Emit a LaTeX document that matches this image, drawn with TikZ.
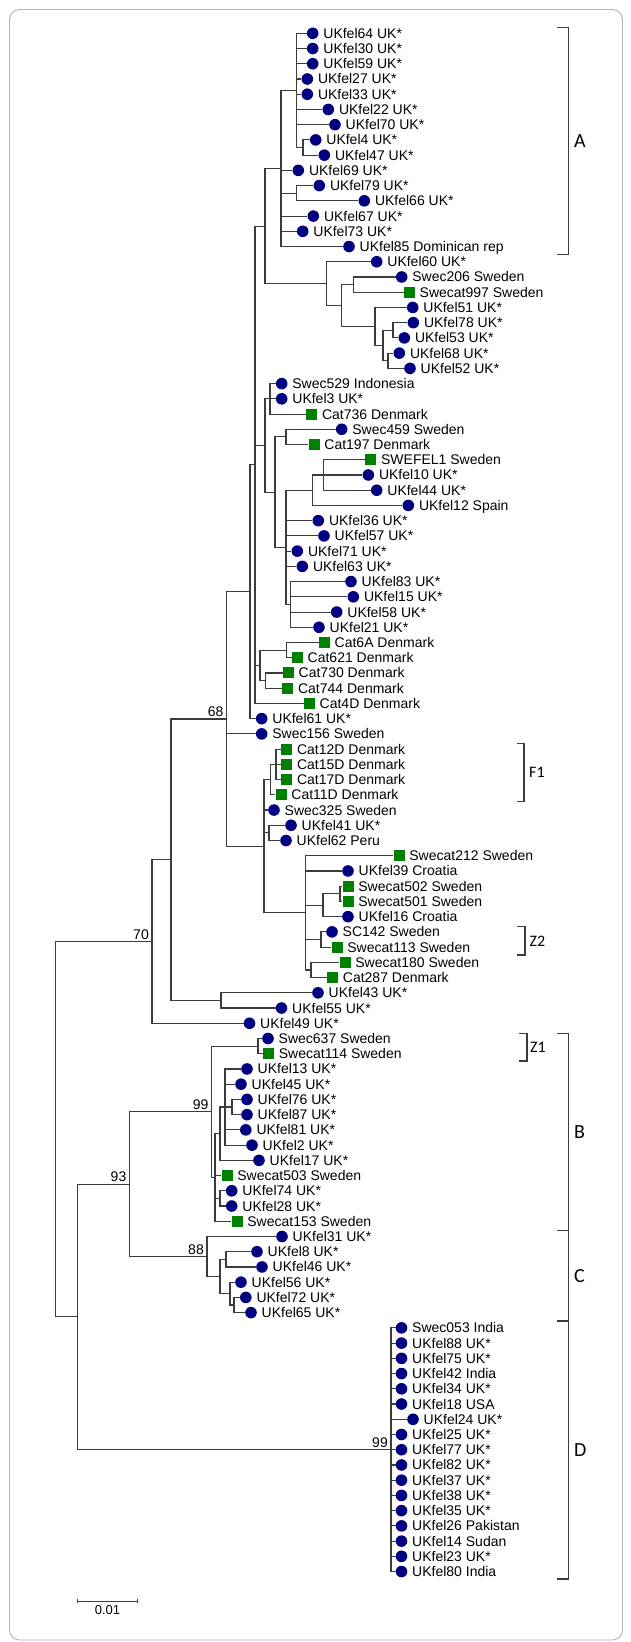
\documentclass[tikz,border=0pt]{standalone}
\usepackage{fontspec}
\setmainfont{Liberation Sans}
\newfontfamily\cladefont{Carlito}
\definecolor{dotblue}{RGB}{0,0,128}
\definecolor{boxgreen}{RGB}{0,128,0}
\definecolor{branchgray}{RGB}{60,60,60}
\begin{document}
\begin{tikzpicture}[x=1pt,y=-15.23pt,
  uk/.style={circle,fill=dotblue,inner sep=0pt,minimum size=11.6pt},
  se/.style={rectangle,fill=boxgreen,inner sep=0pt,minimum size=11pt},
  lab/.style={inner sep=0pt,text height=10pt,text depth=0pt,font=\fontsize{14}{16}\selectfont},
  boot/.style={anchor=south east,inner sep=2pt,xshift=-1pt,font=\fontsize{14}{16}\selectfont},
  br/.style={draw=branchgray,line width=1.1pt},
  cladelab/.style={anchor=west,inner sep=0pt,font=\cladefont\fontsize{20}{22}\selectfont},
  sublab/.style={anchor=west,inner sep=0pt,font=\cladefont\fontsize{16}{18}\selectfont},
  every label/.append style={lab},
  label distance=4.5pt]
\useasboundingbox (0,-1.1865) rectangle (630,106.626);
\draw[gray!60,line width=0.9pt,rounded corners=10pt] (9.5,-0.562) rectangle (622.5,106.49);

\node[uk,label=right:UKfel64 UK*] (u64) at (312.7,1) {};
\node[uk,label=right:UKfel30 UK*] (u30) at (312.7,2) {};
\node[uk,label=right:UKfel59 UK*] (u59) at (312.7,3) {};
\node[uk,label=right:UKfel27 UK*] (u27) at (307.3,4) {};
\node[uk,label=right:UKfel33 UK*] (u33) at (307.3,5) {};
\node[uk,label=right:UKfel22 UK*] (u22) at (328.3,6) {};
\node[uk,label=right:UKfel70 UK*] (u70) at (335,7) {};
\node[uk,label=right:UKfel4 UK*] (u4) at (315.7,8) {};
\node[uk,label=right:UKfel47 UK*] (u47) at (324.3,9) {};
\node[uk,label=right:UKfel69 UK*] (u69) at (298.3,10) {};
\node[uk,label=right:UKfel79 UK*] (u79) at (319.3,11) {};
\node[uk,label=right:UKfel66 UK*] (u66) at (364.3,12) {};
\node[uk,label=right:UKfel67 UK*] (u67) at (313.3,13) {};
\node[uk,label=right:UKfel73 UK*] (u73) at (302.7,14) {};
\node[uk,label=right:UKfel85 Dominican rep] (u85) at (349,15) {};
\node[uk,label=right:UKfel60 UK*] (u60) at (376.7,16) {};
\node[uk,label=right:Swec206 Sweden] (sw206) at (401.7,17) {};
\node[se,label=right:Swecat997 Sweden] (sc997) at (409.3,18) {};
\node[uk,label=right:UKfel51 UK*] (u51) at (412.7,19) {};
\node[uk,label=right:UKfel78 UK*] (u78) at (413.3,20) {};
\node[uk,label=right:UKfel53 UK*] (u53) at (404.3,21) {};
\node[uk,label=right:UKfel68 UK*] (u68) at (399.3,22) {};
\node[uk,label=right:UKfel52 UK*] (u52) at (410,23) {};
\node[uk,label=right:Swec529 Indonesia] (sw529) at (281.7,24) {};
\node[uk,label=right:UKfel3 UK*] (u3) at (281.7,25) {};
\node[se,label=right:Cat736 Denmark] (c736) at (311.7,26) {};
\node[uk,label=right:Swec459 Sweden] (sw459) at (341.7,27) {};
\node[se,label=right:Cat197 Denmark] (c197) at (314,28) {};
\node[se,label=right:SWEFEL1 Sweden] (swefel1) at (370.7,29) {};
\node[uk,label=right:UKfel10 UK*] (u10) at (368.3,30) {};
\node[uk,label=right:UKfel44 UK*] (u44) at (376.7,31) {};
\node[uk,label=right:UKfel12 Spain] (u12) at (408.3,32) {};
\node[uk,label=right:UKfel36 UK*] (u36) at (318.3,33) {};
\node[uk,label=right:UKfel57 UK*] (u57) at (324,34) {};
\node[uk,label=right:UKfel71 UK*] (u71) at (297.3,35) {};
\node[uk,label=right:UKfel63 UK*] (u63) at (302.3,36) {};
\node[uk,label=right:UKfel83 UK*] (u83) at (351,37) {};
\node[uk,label=right:UKfel15 UK*] (u15) at (353.3,38) {};
\node[uk,label=right:UKfel58 UK*] (u58) at (336.7,39) {};
\node[uk,label=right:UKfel21 UK*] (u21) at (319,40) {};
\node[se,label=right:Cat6A Denmark] (c6A) at (324.3,41) {};
\node[se,label=right:Cat621 Denmark] (c621) at (297.3,42) {};
\node[se,label=right:Cat730 Denmark] (c730) at (288.3,43) {};
\node[se,label=right:Cat744 Denmark] (c744) at (287.7,44) {};
\node[se,label=right:Cat4D Denmark] (c4D) at (309.3,45) {};
\node[uk,label=right:UKfel61 UK*] (u61) at (261.7,46) {};
\node[uk,label=right:Swec156 Sweden] (sw156) at (261.7,47) {};
\node[se,label=right:Cat12D Denmark] (c12D) at (286.7,48) {};
\node[se,label=right:Cat15D Denmark] (c15D) at (286.7,49) {};
\node[se,label=right:Cat17D Denmark] (c17D) at (286.7,50) {};
\node[se,label=right:Cat11D Denmark] (c11D) at (281,51) {};
\node[uk,label=right:Swec325 Sweden] (sw325) at (274,52) {};
\node[uk,label=right:UKfel41 UK*] (u41) at (291,53) {};
\node[uk,label=right:UKfel62 Peru] (u62) at (286,54) {};
\node[se,label=right:Swecat212 Sweden] (sc212) at (399,55) {};
\node[uk,label=right:UKfel39 Croatia] (u39) at (348,56) {};
\node[se,label=right:Swecat502 Sweden] (sc502) at (348,57) {};
\node[se,label=right:Swecat501 Sweden] (sc501) at (348,58) {};
\node[uk,label=right:UKfel16 Croatia] (u16) at (348,59) {};
\node[uk,label=right:SC142 Sweden] (k142) at (332,60) {};
\node[se,label=right:Swecat113 Sweden] (sc113) at (337,61) {};
\node[se,label=right:Swecat180 Sweden] (sc180) at (345,62) {};
\node[se,label=right:Cat287 Denmark] (c287) at (332.5,63) {};
\node[uk,label=right:UKfel43 UK*] (u43) at (318,64) {};
\node[uk,label=right:UKfel55 UK*] (u55) at (281.5,65) {};
\node[uk,label=right:UKfel49 UK*] (u49) at (249.5,66) {};
\node[uk,label=right:Swec637 Sweden] (sw637) at (268,67) {};
\node[se,label=right:Swecat114 Sweden] (sc114) at (268.5,68) {};
\node[uk,label=right:UKfel13 UK*] (u13) at (247,69) {};
\node[uk,label=right:UKfel45 UK*] (u45) at (241,70) {};
\node[uk,label=right:UKfel76 UK*] (u76) at (247,71) {};
\node[uk,label=right:UKfel87 UK*] (u87) at (247,72) {};
\node[uk,label=right:UKfel81 UK*] (u81) at (245.8,73) {};
\node[uk,label=right:UKfel2 UK*] (u2) at (252,74) {};
\node[uk,label=right:UKfel17 UK*] (u17) at (259,75) {};
\node[se,label=right:Swecat503 Sweden] (sc503) at (227,76) {};
\node[uk,label=right:UKfel74 UK*] (u74) at (231.7,77) {};
\node[uk,label=right:UKfel28 UK*] (u28) at (231.7,78) {};
\node[se,label=right:Swecat153 Sweden] (sc153) at (237,79) {};
\node[uk,label=right:UKfel31 UK*] (u31) at (282,80) {};
\node[uk,label=right:UKfel8 UK*] (u8) at (257,81) {};
\node[uk,label=right:UKfel46 UK*] (u46) at (262,82) {};
\node[uk,label=right:UKfel56 UK*] (u56) at (241,83) {};
\node[uk,label=right:UKfel72 UK*] (u72) at (245.8,84) {};
\node[uk,label=right:UKfel65 UK*] (u65) at (251,85) {};
\node[uk,label=right:Swec053 India] (sw053) at (401.5,86) {};
\node[uk,label=right:UKfel88 UK*] (u88) at (401.5,87) {};
\node[uk,label=right:UKfel75 UK*] (u75) at (401.5,88) {};
\node[uk,label=right:UKfel42 India] (u42) at (401.5,89) {};
\node[uk,label=right:UKfel34 UK*] (u34) at (401.5,90) {};
\node[uk,label=right:UKfel18 USA] (u18) at (401.5,91) {};
\node[uk,label=right:UKfel24 UK*] (u24) at (413,92) {};
\node[uk,label=right:UKfel25 UK*] (u25) at (401.5,93) {};
\node[uk,label=right:UKfel77 UK*] (u77) at (401.5,94) {};
\node[uk,label=right:UKfel82 UK*] (u82) at (401.5,95) {};
\node[uk,label=right:UKfel37 UK*] (u37) at (401.5,96) {};
\node[uk,label=right:UKfel38 UK*] (u38) at (401.5,97) {};
\node[uk,label=right:UKfel35 UK*] (u35) at (401.5,98) {};
\node[uk,label=right:UKfel26 Pakistan] (u26) at (401.5,99) {};
\node[uk,label=right:UKfel14 Sudan] (u14) at (401.5,100) {};
\node[uk,label=right:UKfel23 UK*] (u23) at (401.5,101) {};
\node[uk,label=right:UKfel80 India] (u80) at (401.5,102) {};

\coordinate (root) at (55.5,72.96);
\coordinate (n70) at (152,60.63);
\coordinate (nbig) at (171,55.26);
\coordinate (n4355) at (221,64.5);
\coordinate (n68) at (226.7,46.02);
\coordinate (nU) at (250,37.664);
\coordinate (nV) at (255,29.328);
\coordinate (nW) at (265,13.656);
\coordinate (nA) at (281,9.875);
\coordinate (nA1) at (296.7,4.75);
\coordinate (n447) at (303,8.5);
\coordinate (n7966) at (296.7,11.5);
\coordinate (n60) at (326.7,17.4375);
\coordinate (nC1) at (341.7,18.875);
\coordinate (n206) at (353.3,17.5);
\coordinate (n51) at (375,20.25);
\coordinate (nin) at (383,21.5);
\coordinate (n7853) at (393,20.5);
\coordinate (n6852) at (388,22.5);
\coordinate (nQ) at (265,28.0625);
\coordinate (nQ1) at (270,25);
\coordinate (nQ2) at (275,31.125);
\coordinate (n459) at (286,27.5);
\coordinate (nH) at (286,34.75);
\coordinate (nS1) at (312.7,31);
\coordinate (nS1a) at (323.3,30);
\coordinate (nS2) at (290.7,38.5);
\coordinate (nG) at (260,42.5);
\coordinate (n6A) at (286.7,41.5);
\coordinate (n730) at (265.7,43.5);
\coordinate (nL) at (264,54.375);
\coordinate (nf1b) at (270.7,50);
\coordinate (nf1a) at (276,49);
\coordinate (n4162) at (269,53.5);
\coordinate (nM) at (305.4,58.75);
\coordinate (nM1) at (323,58.25);
\coordinate (n502) at (340,57.5);
\coordinate (nZ2) at (321,60.5);
\coordinate (n180) at (311,62.5);
\coordinate (n9D) at (77.5,85.28);
\coordinate (n93) at (129.5,76.5625);
\coordinate (n99B) at (211.6,71.8125);
\coordinate (n637) at (258,67.5);
\coordinate (nY) at (215,76.125);
\coordinate (nX2) at (220,73.25);
\coordinate (nX1) at (225,71.5);
\coordinate (n7687) at (232,71.5);
\coordinate (n7428) at (220,77.5);
\coordinate (n88) at (207,81.3125);
\coordinate (nZ1) at (220,82.625);
\coordinate (n846) at (226,81.5);
\coordinate (n5665) at (230,83.75);
\coordinate (n7265) at (234,84.5);
\coordinate (nD) at (391,94);

\draw[br] (root) |- (n70) (root) |- (n9D);
\draw[br] (n70) |- (nbig) (n70) |- (u49);
\draw[br] (nbig) |- (n68) (nbig) |- (n4355);
\draw[br] (n4355) |- (u43) (n4355) |- (u55);
\draw[br] (n68) |- (nU) (n68) |- (sw156) (n68) |- (nL);
\draw[br] (nU) |- (nV) (nU) |- (u61);
\draw[br] (nV) |- (nW) (nV) |- (nQ) (nV) |- (nG) (nV) |- (c4D);
\draw[br] (nW) |- (nA) (nW) |- (n60);
\draw[br] (nA) |- (nA1) (nA) |- (u69) (nA) |- (n7966) (nA) |- (u67) (nA) |- (u73) (nA) |- (u85);
\draw[br] (nA1) |- (u64) (nA1) |- (u30) (nA1) |- (u59) (nA1) |- (u27) (nA1) |- (u33) (nA1) |- (u22) (nA1) |- (u70) (nA1) |- (n447);
\draw[br] (n447) |- (u4) (n447) |- (u47);
\draw[br] (n7966) |- (u79) (n7966) |- (u66);
\draw[br] (n60) |- (u60) (n60) |- (nC1);
\draw[br] (nC1) |- (n206) (nC1) |- (n51);
\draw[br] (n206) |- (sw206) (n206) |- (sc997);
\draw[br] (n51) |- (u51) (n51) |- (nin);
\draw[br] (nin) |- (n7853) (nin) |- (n6852);
\draw[br] (n7853) |- (u78) (n7853) |- (u53);
\draw[br] (n6852) |- (u68) (n6852) |- (u52);
\draw[br] (nQ) |- (nQ1) (nQ) |- (nQ2);
\draw[br] (nQ1) |- (sw529) (nQ1) |- (u3) (nQ1) |- (c736);
\draw[br] (nQ2) |- (n459) (nQ2) |- (nH);
\draw[br] (n459) |- (sw459) (n459) |- (c197);
\draw[br] (nH) |- (nS1) (nH) |- (u36) (nH) |- (u57) (nH) |- (u71) (nH) |- (u63) (nH) |- (nS2);
\draw[br] (nS1) |- (nS1a) (nS1) |- (u12);
\draw[br] (nS1a) |- (swefel1) (nS1a) |- (u10) (nS1a) |- (u44);
\draw[br] (nS2) |- (u83) (nS2) |- (u15) (nS2) |- (u58) (nS2) |- (u21);
\draw[br] (nG) |- (n6A) (nG) |- (n730);
\draw[br] (n6A) |- (c6A) (n6A) |- (c621);
\draw[br] (n730) |- (c730) (n730) |- (c744);
\draw[br] (nL) |- (nf1b) (nL) |- (sw325) (nL) |- (n4162) (nL) |- (nM);
\draw[br] (nf1b) |- (nf1a) (nf1b) |- (c11D);
\draw[br] (nf1a) |- (c12D) (nf1a) |- (c15D) (nf1a) |- (c17D);
\draw[br] (n4162) |- (u41) (n4162) |- (u62);
\draw[br] (nM) |- (sc212) (nM) |- (u39) (nM) |- (nM1) (nM) |- (nZ2) (nM) |- (n180);
\draw[br] (nM1) |- (n502) (nM1) |- (u16);
\draw[br] (n502) |- (sc502) (n502) |- (sc501);
\draw[br] (nZ2) |- (k142) (nZ2) |- (sc113);
\draw[br] (n180) |- (sc180) (n180) |- (c287);
\draw[br] (n9D) |- (n93) (n9D) |- (nD);
\draw[br] (n93) |- (n99B) (n93) |- (n88);
\draw[br] (n99B) |- (n637) (n99B) |- (nY);
\draw[br] (n637) |- (sw637) (n637) |- (sc114);
\draw[br] (nY) |- (nX2) (nY) |- (sc503) (nY) |- (n7428) (nY) |- (sc153);
\draw[br] (nX2) |- (nX1) (nX2) |- (u17);
\draw[br] (nX1) |- (u13) (nX1) |- (u45) (nX1) |- (n7687) (nX1) |- (u81) (nX1) |- (u2);
\draw[br] (n7687) |- (u76) (n7687) |- (u87);
\draw[br] (n7428) |- (u74) (n7428) |- (u28);
\draw[br] (n88) |- (u31) (n88) |- (nZ1);
\draw[br] (nZ1) |- (n846) (nZ1) |- (n5665);
\draw[br] (n846) |- (u8) (n846) |- (u46);
\draw[br] (n5665) |- (u56) (n5665) |- (n7265);
\draw[br] (n7265) |- (u72) (n7265) |- (u65);
\draw[br] (nD) |- (sw053) (nD) |- (u88) (nD) |- (u75) (nD) |- (u42) (nD) |- (u34) (nD) |- (u18) (nD) |- (u24) (nD) |- (u25) (nD) |- (u77) (nD) |- (u82) (nD) |- (u37) (nD) |- (u38) (nD) |- (u35) (nD) |- (u26) (nD) |- (u14) (nD) |- (u23) (nD) |- (u80);

\node[boot] at (n68) {68};
\node[boot] at (n70) {70};
\node[boot] at (n99B) {99};
\node[boot] at (n93) {93};
\node[boot] at (n88) {88};
\node[boot] at (nD) {99};

\draw[br] (556.7,0.606) -- (568.3,0.606) -- (568.3,15.51) -- (556.7,15.51);
\node[cladelab] at (574,8.06) {A};
\draw[br] (516.7,47.62) -- (524,47.62) -- (524,51.46) -- (516.7,51.46);
\node[sublab] at (529,49.54) {F1};
\draw[br] (517,59.66) -- (525,59.66) -- (525,61.52) -- (517,61.52);
\node[sublab] at (529.5,60.59) {Z2};
\draw[br] (519,66.66) -- (527,66.66) -- (527,68.48) -- (519,68.48);
\node[sublab] at (530,67.57) {Z1};
\draw[br] (557,66.66) -- (568.3,66.66) -- (568.3,102.49) -- (557,102.49);
\draw[br] (557,79.58) -- (568.3,79.58) (557,85.55) -- (568.3,85.55);
\node[cladelab] at (574,73.12) {B};
\node[cladelab] at (574,82.57) {C};
\node[cladelab] at (574,94.02) {D};

\draw[br,line width=0.9pt] (77.5,103.94) -- (137.5,103.94);
\draw[br,line width=0.9pt] (77.5,103.82) -- (77.5,104.06) (137.5,103.82) -- (137.5,104.06);
\node[inner sep=0pt,font=\fontsize{13}{15}\selectfont] at (107.5,104.55) {0.01};
\end{tikzpicture}
\end{document}
